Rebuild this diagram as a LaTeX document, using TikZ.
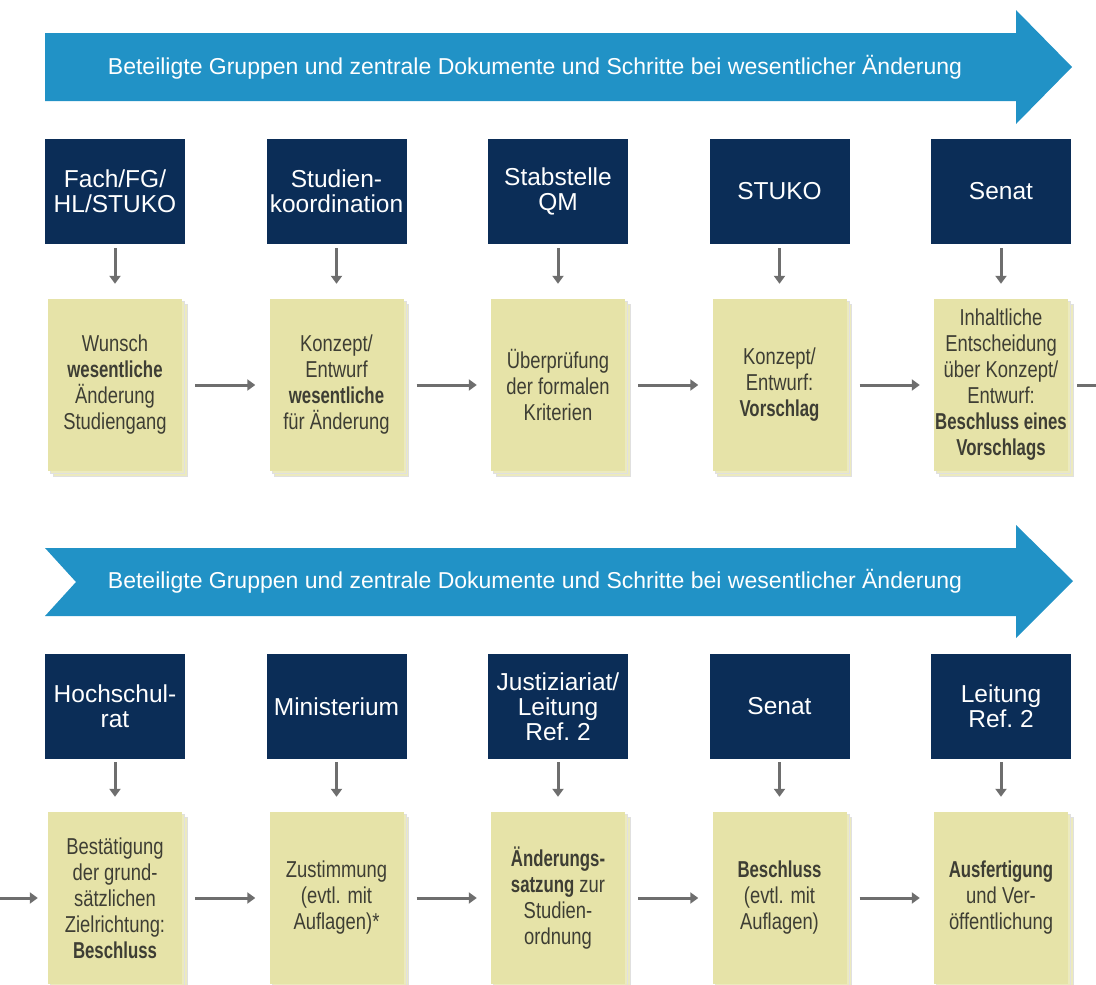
\documentclass[tikz,border=0pt]{standalone}
\usepackage{fontspec}
\setmainfont{Liberation Sans}
\newfontfamily\narrowfont[FakeStretch=0.8, BoldFont={Liberation Sans Bold},
    BoldFeatures={FakeStretch=0.73}]{Liberation Sans}
\definecolor{BannerBlue}{HTML}{2192C6}
\definecolor{GroupNavy}{HTML}{0B2D57}
\definecolor{DocYellow}{HTML}{E6E3A8}
\definecolor{DocText}{HTML}{3E3E34}
\definecolor{ArrowGray}{HTML}{6E6E6E}
\colorlet{DocSheet}{DocYellow!75}
\usetikzlibrary{arrows.meta, shadows}
\tikzset{
    banner/.style={fill=BannerBlue},
    banner text/.style={text=white, font=\fontsize{23}{26}\selectfont},
    group box/.style={
        fill=GroupNavy, text=white, align=center, inner sep=0pt,
        minimum width=140pt, minimum height=105pt,
        font=\fontsize{24.5}{25}\selectfont
    },
    doc box/.style={
        fill=DocYellow, text=DocText, align=center, inner sep=0pt,
        minimum width=134pt, minimum height=172pt,
        font=\narrowfont\fontsize{23}{26}\selectfont,
        double copy shadow={shadow xshift=2.5pt, shadow yshift=-2.5pt,
            fill=DocSheet, draw=black!12, line width=0.4pt}
    },
    step line/.style={draw=ArrowGray, line width=3pt},
    step arrow/.style={step line, -{Triangle[width=11pt,length=8pt]}}
}

\begin{document}
\begin{tikzpicture}[x=1pt, y=-1pt]
\useasboundingbox (0,0) rectangle (1096,985);

% Erste Reihe: Pfeilbanner
\fill[banner] (45,33) -- (1016,33) -- (1016,10) -- (1072,67)
    -- (1016,124) -- (1016,101) -- (45,101) -- cycle;
\node[banner text] (title1) at (535,67)
    {Beteiligte Gruppen und zentrale Dokumente und Schritte bei wesentlicher Änderung};

% Erste Reihe: Gruppen
\node[group box] (g1) at (115,191.5) {Fach/FG/\\HL/STUKO};
\node[group box] (g2) at (336.5,191.5) {Studien-\\koordination};
\node[group box] (g3) at (558,191.5) {Stabstelle\\QM};
\node[group box] (g4) at (779.5,191.5) {STUKO};
\node[group box] (g5) at (1001,191.5) {Senat};

% Erste Reihe: Dokumente
\node[doc box] (d1) at (115,385) {Wunsch\\\textbf{wesentliche}\\Änderung\\Studiengang};
\node[doc box] (d2) at (336.5,385) {Konzept/\\Entwurf\\\textbf{wesentliche}\\für Änderung};
\node[doc box] (d3) at (558,385) {Überprüfung\\der formalen\\Kriterien};
\node[doc box] (d4) at (779.5,385) {Konzept/\\Entwurf:\\\textbf{Vorschlag}};
\node[doc box] (d5) at (1001,385) {Inhaltliche\\Entscheidung\\über Konzept/\\Entwurf:\\\textbf{Beschluss eines}\\\textbf{Vorschlags}};

% Zweite Reihe: Pfeilbanner mit Kerbe
\fill[banner] (45,548) -- (1016,548) -- (1016,525) -- (1073,581)
    -- (1016,638) -- (1016,616) -- (45,616) -- (76,582) -- cycle;
\node[banner text] (title2) at (535,581)
    {Beteiligte Gruppen und zentrale Dokumente und Schritte bei wesentlicher Änderung};

% Zweite Reihe: Gruppen
\node[group box] (g6) at (115,706.5) {Hochschul-\\rat};
\node[group box] (g7) at (336.5,706.5) {Ministerium};
\node[group box] (g8) at (558,706.5) {Justiziariat/\\Leitung\\Ref.\ 2};
\node[group box] (g9) at (779.5,706.5) {Senat};
\node[group box] (g10) at (1001,706.5) {Leitung\\Ref.\ 2};

% Zweite Reihe: Dokumente
\node[doc box] (d6) at (115,898) {Bestätigung\\der grund-\\sätzlichen\\Zielrichtung:\\\textbf{Beschluss}};
\node[doc box] (d7) at (336.5,898) {Zustimmung\\(evtl. mit\\Auflagen)*};
\node[doc box] (d8) at (558,898) {\textbf{Änderungs-}\\\textbf{satzung} zur\\Studien-\\ordnung};
\node[doc box] (d9) at (779.5,898) {\textbf{Beschluss}\\(evtl. mit\\Auflagen)};
\node[doc box] (d10) at (1001,898) {\textbf{Ausfertigung}\\und Ver-\\öffentlichung};

% Pfeile von den Gruppen zu den Dokumenten
\draw[step arrow, shorten <=4pt, shorten >=15pt] (g1) -- (d1);
\draw[step arrow, shorten <=4pt, shorten >=15pt] (g2) -- (d2);
\draw[step arrow, shorten <=4pt, shorten >=15pt] (g3) -- (d3);
\draw[step arrow, shorten <=4pt, shorten >=15pt] (g4) -- (d4);
\draw[step arrow, shorten <=4pt, shorten >=15pt] (g5) -- (d5);
\draw[step arrow, shorten <=3pt, shorten >=15pt] (g6) -- (d6);
\draw[step arrow, shorten <=3pt, shorten >=15pt] (g7) -- (d7);
\draw[step arrow, shorten <=3pt, shorten >=15pt] (g8) -- (d8);
\draw[step arrow, shorten <=3pt, shorten >=15pt] (g9) -- (d9);
\draw[step arrow, shorten <=3pt, shorten >=15pt] (g10) -- (d10);

% Pfeile zwischen den Dokumenten
\draw[step arrow, shorten <=13pt, shorten >=14pt] (d1) -- (d2);
\draw[step arrow, shorten <=13pt, shorten >=14pt] (d2) -- (d3);
\draw[step arrow, shorten <=13pt, shorten >=14pt] (d3) -- (d4);
\draw[step arrow, shorten <=13pt, shorten >=14pt] (d4) -- (d5);
\draw[step arrow, shorten <=13pt, shorten >=14pt] (d6) -- (d7);
\draw[step arrow, shorten <=13pt, shorten >=14pt] (d7) -- (d8);
\draw[step arrow, shorten <=13pt, shorten >=14pt] (d8) -- (d9);
\draw[step arrow, shorten <=13pt, shorten >=14pt] (d9) -- (d10);

% Übergang von der ersten in die zweite Reihe
\coordinate (out1) at (1096,385);
\coordinate (in2) at (0,898);
\draw[step line, shorten <=9pt] (d5) -- (out1);
\draw[step arrow, shorten >=10pt] (in2) -- (d6);

\end{tikzpicture}
\end{document}
